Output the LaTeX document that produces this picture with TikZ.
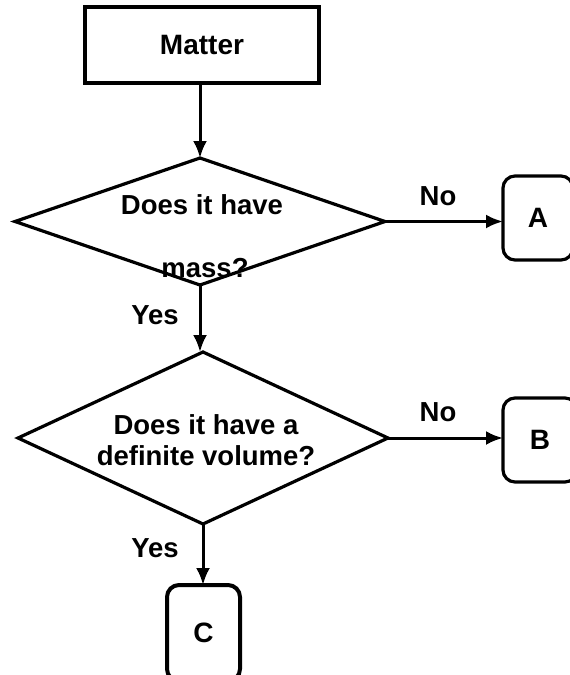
\documentclass[tikz,border=0pt]{standalone}
\usepackage{fontspec}
\setmainfont{Liberation Sans}
\usetikzlibrary{shapes.geometric,arrows.meta}
\begin{document}
\begin{tikzpicture}[x=1pt,y=-1pt,
  txt/.style={font=\fontsize{27.5}{31}\selectfont\bfseries, inner sep=0pt},
  ln/.style={line width=3.2pt, draw=black},
  decision/.style={ln, shape=diamond, inner sep=0pt, outer sep=0pt, minimum width=370pt, minimum height=#1},
  startbox/.style={ln, rectangle, minimum width=234pt, minimum height=76pt, inner sep=0pt, outer sep=0pt, font=\fontsize{28}{31}\selectfont\bfseries},
  endbox/.style={ln, rectangle, rounded corners=12pt, inner sep=0pt, outer sep=0pt, font=\fontsize{28}{31}\selectfont\bfseries},
  arr/.style={line width=3pt, -{Latex[length=17pt,width=14pt]}}
]
\useasboundingbox (0,0) rectangle (570,675);
\fill[white] (0,0) rectangle (570,675);

\node[startbox] (matter) at (202,45) {Matter};

\node[decision=127pt] (d1) at (200,221.5) {};
\node[txt] (d1a) at (202,205) {Does it have};
\node[txt] (d1b) at (205,268) {mass?};

\node[decision=172pt] (d2) at (203,438) {};
\node[txt, align=center] (d2t) at (206,440) {Does it have a\\definite volume?};

\node[endbox, minimum width=70pt, minimum height=84pt] (A) at (538,218) {A};
\node[endbox, minimum width=74pt, minimum height=84pt] (B) at (540,440) {B};
\node[endbox, line width=4pt, minimum width=73pt, minimum height=96pt] (C) at (203.5,633) {C};

\draw[arr] (matter.south -| d1.north) -- (d1.north);
\draw[arr] (d1.east) -- (d1.east -| A.west);
\draw[arr] (d1.south) -- (d1.south |- d2.north);
\draw[arr] (d2.east) -- (d2.east -| B.west);
\draw[arr] (d2.south) -- (d2.south |- C.north);

\node[txt] (no1) at (438,196) {No};
\node[txt] (no2) at (438,412) {No};
\node[txt] (yes1) at (155,315) {Yes};
\node[txt] (yes2) at (155,548) {Yes};
\end{tikzpicture}
\end{document}
